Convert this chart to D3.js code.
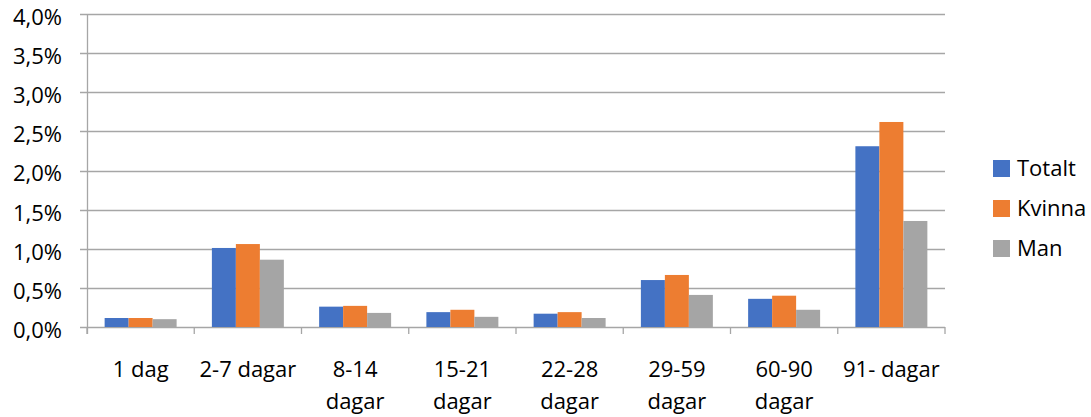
<!DOCTYPE html>
<html>
<head>
<meta charset="utf-8">
<script src="https://cdn.jsdelivr.net/npm/d3@7"></script>
<style>
  body { margin: 0; background: #fff; }
  svg { display: block; font-family: "Open Sans", sans-serif; }
</style>
</head>
<body>
<svg id="canvas" width="1091" height="417"></svg>
<script>
const categories = ["1 dag", "2-7 dagar", "8-14 dagar", "15-21 dagar", "22-28 dagar", "29-59 dagar", "60-90 dagar", "91- dagar"];
const series = ["Totalt", "Kvinna", "Man"];
const totalt = [0.00115, 0.0101, 0.0026, 0.0019, 0.0017, 0.0060, 0.0036, 0.0231];
const kvinna = [0.00115, 0.0106, 0.0027, 0.0022, 0.0019, 0.00665, 0.0040, 0.0262];
const man = [0.0010, 0.0086, 0.0018, 0.0013, 0.00115, 0.0041, 0.0022, 0.01355];
const yTicks = [0, 0.005, 0.01, 0.015, 0.02, 0.025, 0.03, 0.035, 0.04];
const colors = ["#4472C4", "#ED7D31", "#A5A5A5"];

const values = [totalt, kvinna, man];
const FONT = 22;
const GRID = "#a6a6a6";
const TEXT = "#000";

const svg = d3.select("#canvas");
const plotLeft = 87, plotRight = 945, plotTop = 14, plotBottom = 327;

const fmt = d3.formatLocale({decimal: ",", thousands: " ", grouping: [3], currency: ["", " kr"]}).format(".1%");

const x0 = d3.scaleBand().domain(categories).range([plotLeft, plotRight]).padding(0);
const x1 = d3.scaleBand().domain(series).range([0, x0.bandwidth()]).paddingInner(0).paddingOuter(0.735);
const y = d3.scaleLinear().domain([0, 0.04]).range([plotBottom, plotTop]);

// gridlines, extending left as tick marks
svg.append("g")
  .selectAll("line")
  .data(yTicks)
  .join("line")
  .attr("x1", plotLeft - 7)
  .attr("x2", plotRight)
  .attr("y1", d => Math.round(y(d)) + 0.5)
  .attr("y2", d => Math.round(y(d)) + 0.5)
  .attr("stroke", GRID)
  .attr("stroke-width", 1.3);

// y labels
svg.append("g")
  .selectAll("text")
  .data(yTicks)
  .join("text")
  .attr("x", 62)
  .attr("y", d => y(d) + 5)
  .attr("text-anchor", "end")
  .attr("dominant-baseline", "middle")
  .attr("font-size", FONT)
  .attr("fill", TEXT)
  .text(d => fmt(d));

// bars
const groups = svg.append("g")
  .selectAll("g")
  .data(categories)
  .join("g")
  .attr("transform", d => `translate(${x0(d)},0)`);

groups.selectAll("rect")
  .data((c, i) => series.map((s, j) => ({s, v: values[j][i], color: colors[j]})))
  .join("rect")
  .attr("x", d => x1(d.s))
  .attr("width", x1.bandwidth())
  .attr("y", d => y(d.v))
  .attr("height", d => y(0) - y(d.v))
  .attr("fill", d => d.color);

// axes lines
svg.append("line")
  .attr("x1", plotLeft + 0.5).attr("x2", plotLeft + 0.5)
  .attr("y1", plotTop).attr("y2", plotBottom + 7)
  .attr("stroke", GRID).attr("stroke-width", 1.3);

const bounds = categories.map(c => x0(c)).concat([plotRight]);
svg.append("g")
  .selectAll("line")
  .data(bounds)
  .join("line")
  .attr("x1", d => d).attr("x2", d => d)
  .attr("y1", plotBottom).attr("y2", plotBottom + 7)
  .attr("stroke", GRID).attr("stroke-width", 1.3);

// x labels, wrapped when too wide for the band
const xl = svg.append("g")
  .selectAll("text")
  .data(categories)
  .join("text")
  .attr("x", d => x0(d) + x0.bandwidth() / 2)
  .attr("y", 377)
  .attr("text-anchor", "middle")
  .attr("font-size", FONT)
  .attr("fill", TEXT)
  .text(d => d);

xl.each(function(d) {
  const t = d3.select(this);
  if (this.getComputedTextLength() > 102) {
    const words = d.split(" ");
    t.text(null);
    words.forEach((w, i) => {
      t.append("tspan")
        .attr("x", x0(d) + x0.bandwidth() / 2)
        .attr("dy", i === 0 ? 0 : 32)
        .text(w);
    });
  }
});

// legend
const legend = svg.append("g")
  .selectAll("g")
  .data(series)
  .join("g")
  .attr("transform", (d, i) => `translate(993,${160 + i * 40})`);

legend.append("rect")
  .attr("width", 17).attr("height", 17)
  .attr("fill", (d, i) => colors[i]);

legend.append("text")
  .attr("x", 24)
  .attr("y", 16)
  .attr("font-size", FONT)
  .attr("fill", TEXT)
  .text(d => d);
</script>
</body>
</html>
